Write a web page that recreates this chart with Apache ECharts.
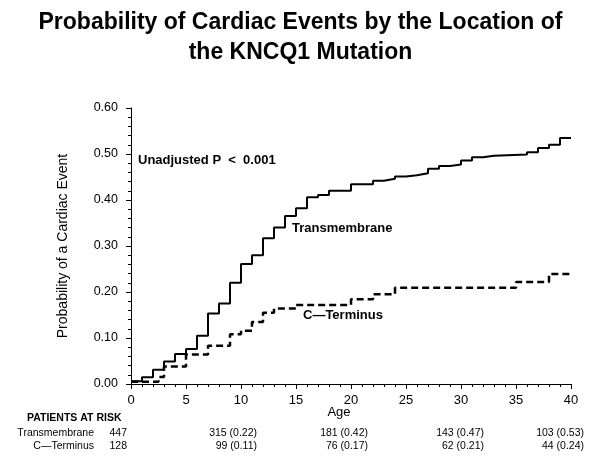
<!DOCTYPE html>
<html>
<head>
<meta charset="utf-8">
<script src="https://cdn.jsdelivr.net/npm/echarts@6/dist/echarts.min.js"></script>
<style>
html,body{margin:0;padding:0;background:#fff;}
#c{width:601px;height:469px;}
</style>
</head>
<body>
<div id="c"></div>
<script>
// ---- data ----
const titleText = 'Probability of Cardiac Events by the Location of\nthe KNCQ1 Mutation';
const yAxisName = 'Probability of a Cardiac Event';
const xAxisName = 'Age';
const pText = 'Unadjusted P  <  0.001';
const seriesNames = ['Transmembrane', 'C\u2014Terminus'];

const tmAge  = [0,1,2,3,4,5,6,7,8,9,10,11,12,13,14,15,16,17,18,20,22,23,24,25,26,27,28,29,30,31,32,33,36,37,38,39,40];
const tmProb = [0.006,0.0145,0.031,0.049,0.065,0.076,0.105,0.153,0.175,0.22,0.261,0.28,0.317,0.34,0.365,0.382,0.406,0.411,0.42,0.434,0.442,0.446,0.451,0.454,0.458,0.468,0.474,0.477,0.486,0.493,0.496,0.499,0.504,0.513,0.52,0.535,0.535];

const ctAge  = [0,2.5,3,5,7,9,10,11,12,13,15,20,22,24,35,38,40];
const ctProb = [0.005,0.015,0.038,0.064,0.083,0.108,0.116,0.135,0.155,0.164,0.172,0.184,0.195,0.209,0.222,0.239,0.239];

const riskHeader = 'PATIENTS AT RISK';
const riskAges = [0,10,20,30,40];
const tmAtRisk = ['447','315 (0.22)','181 (0.42)','143 (0.47)','103 (0.53)'];
const ctAtRisk = ['128','99 (0.11)','76 (0.17)','62 (0.21)','44 (0.24)'];

// ---- layout (pixels) ----
const riskColRight = [127, 257, 368, 484, 584];
const FONT = '"Liberation Sans", Arial, sans-serif';

function pairs(xs, ys){ return xs.map((x,i)=>[x, ys[i]]); }

const chart = echarts.init(document.getElementById('c'), null, {renderer:'canvas'});

const graphics = [
  {type:'text', left:138, top:154, style:{text:pText, font:'bold 13px '+FONT, fill:'#000'}},
  {type:'text', left:292, top:222, style:{text:seriesNames[0], font:'bold 13px '+FONT, fill:'#000'}},
  {type:'text', left:303, top:309, style:{text:seriesNames[1], font:'bold 13px '+FONT, fill:'#000'}},
  {type:'text', x:339, y:412, style:{text:xAxisName, font:'13px '+FONT, fill:'#000', align:'center', verticalAlign:'middle'}},
  {type:'text', x:27, y:418, style:{text:riskHeader, font:'bold 10.5px '+FONT, fill:'#000', align:'left', verticalAlign:'middle'}},
  {type:'text', x:94, y:433, style:{text:seriesNames[0], font:'10.5px '+FONT, fill:'#000', align:'right', verticalAlign:'middle'}},
  {type:'text', x:94, y:446, style:{text:seriesNames[1], font:'10.5px '+FONT, fill:'#000', align:'right', verticalAlign:'middle'}}
];
riskAges.forEach((a,i)=>{
  graphics.push({type:'text', x:riskColRight[i], y:433, style:{text:tmAtRisk[i], font:'10.5px '+FONT, fill:'#000', align:'right', verticalAlign:'middle'}});
  graphics.push({type:'text', x:riskColRight[i], y:446, style:{text:ctAtRisk[i], font:'10.5px '+FONT, fill:'#000', align:'right', verticalAlign:'middle'}});
});

chart.setOption({
  backgroundColor:'#fff',
  animation:false,
  title:{
    text:titleText, left:'center', top:3,
    textStyle:{fontFamily:FONT, fontSize:23, fontWeight:'bold', color:'#000', lineHeight:30}
  },
  grid:{left:131, right:30, top:108, bottom:85, containLabel:false},
  xAxis:{
    type:'value', min:0, max:40, interval:5,
    offset:1,
    axisLine:{show:true, lineStyle:{color:'#000', width:1}},
    axisTick:{show:true, inside:false, length:5, lineStyle:{color:'#000'}},
    minorTick:{show:true, splitNumber:5, length:3, lineStyle:{color:'#000'}},
    splitLine:{show:false},
    axisLabel:{color:'#000', fontFamily:FONT, fontSize:13, margin:9}
  },
  yAxis:{
    type:'value', min:0, max:0.6, interval:0.1,
    offset:6,
    name:yAxisName, nameLocation:'middle', nameRotate:90, nameGap:55,
    nameTextStyle:{color:'#000', fontFamily:FONT, fontSize:14},
    axisLine:{show:true, lineStyle:{color:'#000', width:1}},
    axisTick:{show:true, inside:false, length:5, lineStyle:{color:'#000'}},
    minorTick:{show:true, splitNumber:5, length:3, lineStyle:{color:'#000'}},
    splitLine:{show:false},
    axisLabel:{color:'#000', fontFamily:FONT, fontSize:12.5, margin:7, formatter:v=>v.toFixed(2)}
  },
  series:[
    {name:seriesNames[0], type:'line', step:'end', data:pairs(tmAge,tmProb), symbol:'none',
     lineStyle:{color:'#000', width:2, type:'solid'}},
    {name:seriesNames[1], type:'line', step:'end', data:pairs(ctAge,ctProb), symbol:'none',
     lineStyle:{color:'#000', width:2.5, type:[7,4]}}
  ],
  graphic:graphics
});
</script>
</body>
</html>
